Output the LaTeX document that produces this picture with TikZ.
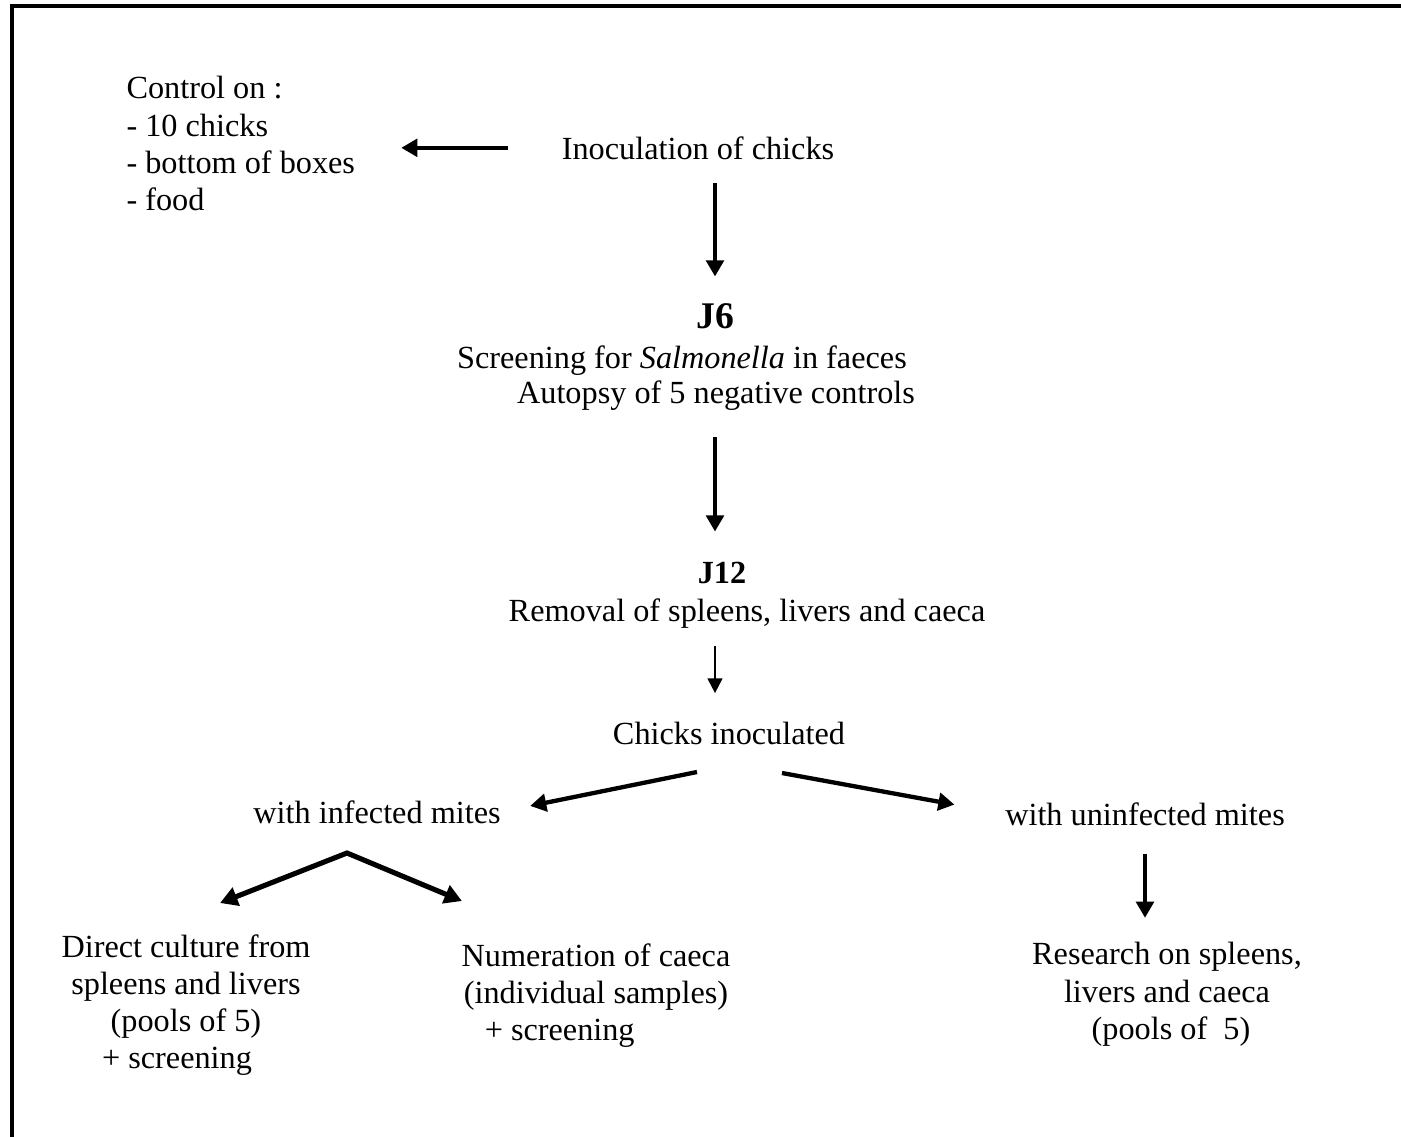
\documentclass[tikz,border=0pt]{standalone}
\usepackage{fontspec}
\setmainfont{Liberation Serif}
\usetikzlibrary{arrows.meta}

\tikzstyle{txt}=[inner sep=0pt, font=\fontsize{12}{13.8}\selectfont]
\tikzstyle{day}=[inner sep=0pt, font=\fontsize{12}{13.8}\selectfont\bfseries]
\tikzstyle{arr}=[line width=1.6pt, -{Triangle[length=6pt,width=6.5pt]}]
\tikzstyle{thinarr}=[line width=0.75pt, -{Triangle[length=5.5pt,width=5.5pt]}]
\tikzstyle{fork}=[line width=1.9pt, {Triangle[length=6.5pt,width=7pt]}-{Triangle[length=6.5pt,width=7pt]}]

\begin{document}
\begin{tikzpicture}[x=0.372pt,y=-0.372pt]
\useasboundingbox (0,0) rectangle (1401,1136);
\draw[line width=1.3pt] (12,1140) |- (1405,6);

\node[txt,align=left,anchor=north west] at (126,76) (ctrl) {Control on :\\- 10 chicks\\- bottom of boxes\\- food};
\node[txt,anchor=base] at (698,159) (inoc) {Inoculation of chicks};
\node[day,font=\fontsize{14}{16}\selectfont\bfseries,anchor=base] at (715,328) (j6) {J6};
\node[txt,anchor=base] at (682,368) (screen) {Screening for \textit{Salmonella} in faeces};
\node[txt,anchor=base] at (716,403) (autopsy) {Autopsy of 5 negative controls};
\node[day,anchor=base] at (722,583) (j12) {J12};
\node[txt,anchor=base] at (747,621) (removal) {Removal of spleens, livers and caeca};
\node[txt,anchor=base] at (729,744) (chinoc) {Chicks inoculated};
\node[txt,anchor=base] at (377,823) (infected) {with infected mites};
\node[txt,anchor=base] at (1145,825) (uninfected) {with uninfected mites};
\node[txt,align=center,anchor=north] at (186,934) (direct) {Direct culture from\\spleens and livers\\(pools of 5)\\+ screening\hspace*{6.7pt}};
\node[txt,align=center,anchor=north] at (596,943) (numer) {Numeration of caeca\\(individual samples)\\+ screening\hspace*{27pt}};
\node[txt,align=center,anchor=north] at (1167,942) (research) {Research on spleens,\\livers and caeca\\\hspace*{3pt}(pools of\ \ 5)};

\coordinate (cl) at (697,772);
\coordinate (cr) at (782,773);
\coordinate (split) at (347,853);

\draw[arr,shorten <=20pt,shorten >=17pt] (inoc.west) -- (inoc.west -| ctrl.east);
\draw[arr,shorten <=8.6pt,shorten >=9.7pt] (inoc.south -| j6) -- (j6.north);
\draw[arr,shorten <=10pt,shorten >=11pt] (autopsy.south -| j6) -- (j6 |- j12.north);
\draw[thinarr,shorten <=6.7pt,shorten >=10.4pt] (removal.south -| j6) -- (j6 |- chinoc.north);
\draw[arr,shorten >=11pt] (cl) -- (infected.east);
\draw[arr,shorten >=19pt] (cr) -- (uninfected.west);
\draw[fork] ([shift={(-127,50)}]split) -- (split) -- ++(115,48);
\draw[arr,shorten <=10.4pt,shorten >=9pt] (uninfected.south) -- (uninfected.south |- research.north);
\end{tikzpicture}
\end{document}
